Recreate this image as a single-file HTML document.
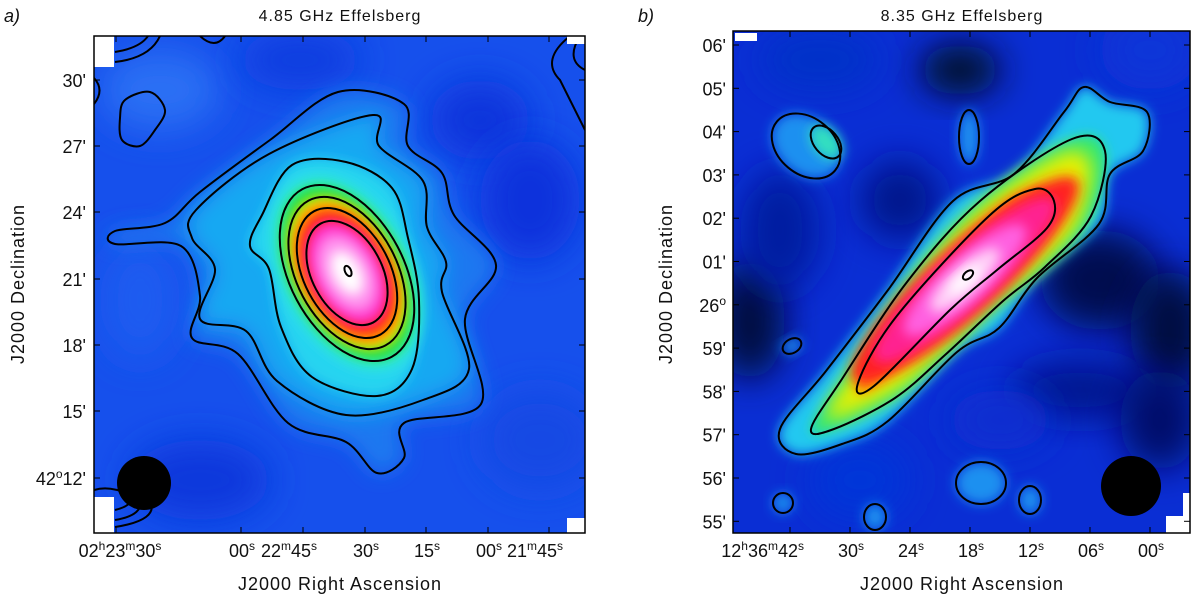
<!DOCTYPE html>
<html><head><meta charset="utf-8"><style>
body{margin:0;background:#fff;width:1200px;height:601px;overflow:hidden}
svg{display:block}
text{font-family:"Liberation Sans","DejaVu Sans",sans-serif;fill:#111}
</style></head><body>
<svg id="s" width="1200" height="601" viewBox="0 0 1200 601">
<defs>
<filter id="b6" x="-50%" y="-50%" width="200%" height="200%"><feGaussianBlur stdDeviation="6"/></filter>
<filter id="b10" x="-50%" y="-50%" width="200%" height="200%"><feGaussianBlur stdDeviation="10"/></filter>
<filter id="b18" x="-50%" y="-50%" width="200%" height="200%"><feGaussianBlur stdDeviation="18"/></filter>
<clipPath id="cl"><rect x="94" y="36" width="491" height="497"/></clipPath>
<clipPath id="cr"><rect x="733" y="31" width="457" height="502"/></clipPath>
</defs>
<g id="L" clip-path="url(#cl)"></g>
<g id="R" clip-path="url(#cr)"></g>
<g id="ax"></g>
</svg>
<script>
// ---- data ----
const leftYTicks=["30'","27'","24'","21'","18'","15'","42°12'"];
const leftYPos=[80,146,212,279,345,411,478];
const leftXTicks=["02h23m30s","00s","22m45s","30s","15s","00s","21m45s"];
const leftXPos=[116,241,303,365,426,488,549];
const rightYTicks=["06'","05'","04'","03'","02'","01'","26°","59'","58'","57'","56'","55'"];
const rightXTicks=["12h36m42s","30s","24s","18s","12s","06s","00s"];
const rightXPos=[790,850,910,970,1030,1090,1150];
const leftOuter=[[115,231],[165,223],[200,192],[270,140],[338,92],[404,104],[408,146],[442,173],[454,215],[496,265],[465,319],[481,404],[404,423],[404,458],[377,473],[346,442],[288,423],[238,354],[192,338],[200,296],[181,246],[115,244]];
const leftMid=[[196,210],[269,154],[373,115],[379,146],[423,181],[427,227],[446,262],[442,292],[469,369],[423,400],[346,415],[277,381],[246,331],[200,319],[215,269],[192,238]];
const leftInner=[[262,215],[292,165],[346,162],[392,188],[408,238],[419,300],[412,369],[377,396],[312,377],[281,327],[269,269],[250,246]];
const leftCore=[[35,56],[43,70],[50,82],[57,95]];
const rOuter=[[780,429],[826,371],[888,290],[953,201],[1014,174],[1064,112],[1084,87],[1110,102],[1147,112],[1143,151],[1110,174],[1099,224],[1037,278],[999,328],[957,352],[888,421],[842,444],[796,454]];
const rMid=[[811,429],[842,379],[907,282],[980,201],[1072,139],[1105,151],[1091,216],[1045,267],[1003,301],[945,355],[895,398],[834,429]];
const rCore=[[858,383],[896,317],[989,216],[1035,189],[1054,201],[1047,228],[997,270],[951,309],[874,386]];
const rBlobs=[[806,146,38,28,40],[826,142,12,19,-40],[969,137,10,27,0],[792,346,10,7,-30],[981,483,25,21,0],[1030,500,11,14,0],[783,503,10,10,0],[875,517,11,13,0]];

const NS="http://www.w3.org/2000/svg";
function mk(p,t,a){const e=document.createElementNS(NS,t);for(const k in a)e.setAttribute(k,a[k]);p.appendChild(e);return e;}
function cr(pts){let n=pts.length,d="M"+pts[0][0]+","+pts[0][1];
 for(let i=0;i<n;i++){const p0=pts[(i-1+n)%n],p1=pts[i],p2=pts[(i+1)%n],p3=pts[(i+2)%n];
 d+=" C"+(p1[0]+(p2[0]-p0[0])/6)+","+(p1[1]+(p2[1]-p0[1])/6)+" "+(p2[0]-(p3[0]-p1[0])/6)+","+(p2[1]-(p3[1]-p1[1])/6)+" "+p2[0]+","+p2[1];}
 return d+"Z";}
const cs={fill:"none",stroke:"#000","stroke-width":2};
// ---- LEFT ----
const L=document.getElementById("L");
mk(L,"rect",{x:94,y:36,width:491,height:497,fill:"#1650ec"});
[[160,90,60,40,"#2a70f4"],[480,120,50,40,"#0a34dc"],[530,200,50,60,"#0c30dc"],[540,440,60,50,"#1248e4"],[200,480,70,40,"#0c38dc"],[140,300,40,60,"#1a5cf0"],[300,60,60,30,"#0e3ce0"]].forEach(b=>mk(L,"ellipse",{cx:b[0],cy:b[1],rx:b[2],ry:b[3],fill:b[4],filter:"url(#b18)"}));
mk(L,"path",{d:cr(leftOuter),fill:"#1a78f0",filter:"url(#b10)"});
mk(L,"path",{d:cr(leftMid),fill:"#18a8f2",filter:"url(#b10)"});
mk(L,"path",{d:cr(leftInner),fill:"#28d4f0",filter:"url(#b6)"});
const lc=[[66,105,"#30e8e0"],[57,95,"#22e040"],[50,82,"#f0e800"],[45,74,"#ff8000"],[40,64,"#ff1818"],[35,56,"#ff30c8"],[26,42,"#ff90ee"],[14,24,"#fff"]];
lc.forEach(c=>mk(L,"ellipse",{cx:347,cy:273,rx:c[0],ry:c[1],fill:c[2],transform:"rotate(-28 347 273)",filter:"url(#b6)"}));
const gL=mk(L,"g",{});


[leftOuter,leftMid,leftInner].forEach(p=>mk(gL,"path",Object.assign({d:cr(p)},cs)));
leftCore.forEach(c=>mk(gL,"ellipse",Object.assign({cx:347,cy:273,rx:c[0],ry:c[1],transform:"rotate(-28 347 273)"},cs)));
mk(gL,"ellipse",Object.assign({cx:348,cy:271,rx:3,ry:5.5,transform:"rotate(-25 348 271)"},cs));
mk(gL,"path",Object.assign({d:cr([[125,100],[150,92],[165,110],[155,130],[140,146],[122,140],[120,118]])},cs));
mk(gL,"path",Object.assign({d:"M115,52 Q140,48 148,36 M115,62 Q150,58 160,36 M200,36 Q215,50 225,36 M585,130 Q570,100 560,80 Q540,60 570,36 M585,70 Q565,60 580,36 M94,78 Q105,90 94,104 M115,510 Q135,505 130,495 Q110,485 94,490 M115,520 Q145,515 140,498 M115,527 Q160,520 150,500"},cs));
mk(L,"circle",{cx:144,cy:483,r:27,fill:"#000"});
[[94,36,20,31],[567,36,18,8],[94,497,20,36],[567,518,18,15]].forEach(r=>mk(L,"rect",{x:r[0],y:r[1],width:r[2],height:r[3],fill:"#fff"}));
// ---- RIGHT ----
const R=document.getElementById("R");
mk(R,"rect",{x:733,y:31,width:457,height:502,fill:"#0a2ed4"});
[[960,70,40,25,"#000820"],[750,320,35,60,"#000a40"],[1100,280,60,50,"#000c50"],[1170,330,40,60,"#000a40"],[900,200,40,40,"#06168c"],[1080,390,70,30,"#041490"],[780,230,40,60,"#061aa0"],[1160,420,40,50,"#02106a"],[820,60,60,30,"#0630c8"],[1000,420,50,30,"#0a2ed0"],[1150,50,50,40,"#0836d8"],[860,480,50,40,"#0636d8"]].forEach(b=>mk(R,"ellipse",{cx:b[0],cy:b[1],rx:b[2],ry:b[3],fill:b[4],filter:"url(#b18)"}));
rBlobs.slice(0,1).concat(rBlobs.slice(2)).forEach(b=>mk(R,"ellipse",{cx:b[0],cy:b[1],rx:b[2],ry:b[3],transform:`rotate(${b[4]} ${b[0]} ${b[1]})`,fill:"#1a90f0",filter:"url(#b6)"}));
mk(R,"ellipse",{cx:826,cy:142,rx:13,ry:20,transform:"rotate(-40 826 142)",fill:"#30e0c0",filter:"url(#b6)"});
mk(R,"path",{d:cr(rOuter),fill:"#20c8f0",filter:"url(#b6)"});
mk(R,"path",{d:cr(rMid),fill:"#30e870",filter:"url(#b6)"});
mk(R,"path",{d:cr(rMid),fill:"#e8f000",filter:"url(#b10)",transform:"translate(963 286) scale(0.9) translate(-963 -286)"});
mk(R,"path",{d:cr(rCore),fill:"#ff8000",filter:"url(#b6)"});
const rc=[[150,34,"#ff2020"],[120,28,"#ff2090"],[80,22,"#ff60e0"],[45,14,"#ffd0f8"],[20,7,"#fff"]];
rc.forEach(c=>mk(R,"ellipse",{cx:965,cy:280,rx:c[0],ry:c[1],fill:c[2],transform:"rotate(-42 965 280)",filter:"url(#b6)"}));
const gR=mk(R,"g",{});


[rOuter,rMid,rCore].forEach(p=>mk(gR,"path",Object.assign({d:cr(p)},cs)));
rBlobs.forEach(b=>mk(gR,"ellipse",Object.assign({cx:b[0],cy:b[1],rx:b[2],ry:b[3],transform:`rotate(${b[4]} ${b[0]} ${b[1]})`},cs)));
mk(gR,"ellipse",Object.assign({cx:968,cy:275,rx:6,ry:3.5,transform:"rotate(-40 968 275)"},cs));
mk(R,"circle",{cx:1131,cy:486,r:30,fill:"#000"});
mk(R,"rect",{x:735,y:33,width:22,height:8,fill:"#fff"});
mk(R,"path",{d:"M1166,533 V516 H1183 V493 H1190 V533 Z",fill:"#fff"});
// ---- AXES ----
const A=document.getElementById("ax");
function frame(x0,y0,x1,y1,name){const r=mk(A,"rect",{x:x0,y:y0,width:x1-x0,height:y1-y0,fill:"none",stroke:"#000","stroke-width":1.5});}
frame(94,36,585,533,"frame-a");frame(733,31,1190,533,"frame-b");
function txt(x,y,s,o,name){const t=mk(A,"text",Object.assign({x:x,y:y,"font-size":18},o||{}));t.textContent=s;return t;}
function ra(s){return s.replace(/([hms])/g,'<tspan baseline-shift="super" font-size="12">$1</tspan>');}
leftYTicks.forEach((s,i)=>{const y=leftYPos[i];mk(A,"line",{x1:94,y1:y,x2:100,y2:y,stroke:"#000"});mk(A,"line",{x1:585,y1:y,x2:579,y2:y,stroke:"#000"});
 const t=txt(86,y+7,s,{"text-anchor":"end"},"y-tick-label-a");if(s.includes("°"))t.innerHTML='42<tspan baseline-shift="super" font-size="12">o</tspan>12\'';});
leftXTicks.forEach((s,i)=>{const x=leftXPos[i];mk(A,"line",{x1:x,y1:533,x2:x,y2:527,stroke:"#000"});mk(A,"line",{x1:x,y1:36,x2:x,y2:42,stroke:"#000"});
 const t=txt(x,557,"",{"text-anchor":i==0?"middle":"end"},"x-tick-label-a");t.innerHTML=ra(s);if(i==0)t.setAttribute("x",x+4);else t.setAttribute("x",x+14);});
rightYTicks.forEach((s,i)=>{const y=45+i*43.3;mk(A,"line",{x1:733,y1:y,x2:739,y2:y,stroke:"#000"});mk(A,"line",{x1:1190,y1:y,x2:1184,y2:y,stroke:"#000"});
 const t=txt(726,y+7,s,{"text-anchor":"end"},"y-tick-label-b");if(s.includes("°"))t.innerHTML='26<tspan baseline-shift="super" font-size="12">o</tspan>';});
rightXTicks.forEach((s,i)=>{const x=rightXPos[i];mk(A,"line",{x1:x,y1:533,x2:x,y2:527,stroke:"#000"});mk(A,"line",{x1:x,y1:31,x2:x,y2:37,stroke:"#000"});
 const t=txt(x+14,557,"",{"text-anchor":"end"},"x-tick-label-b");t.innerHTML=ra(s);});
txt(340,21,"4.85 GHz Effelsberg",{"text-anchor":"middle","font-size":16,"letter-spacing":1},"title-a");
txt(962,21,"8.35 GHz Effelsberg",{"text-anchor":"middle","font-size":16,"letter-spacing":1},"title-b");
txt(340,590,"J2000 Right Ascension",{"text-anchor":"middle","letter-spacing":1},"x-axis-title-a");
txt(962,590,"J2000 Right Ascension",{"text-anchor":"middle","letter-spacing":1},"x-axis-title-b");
txt(0,0,"J2000 Declination",{"text-anchor":"middle","letter-spacing":1,transform:"translate(24 284) rotate(-90)"},"y-axis-title-a");
txt(0,0,"J2000 Declination",{"text-anchor":"middle","letter-spacing":1,transform:"translate(672 284) rotate(-90)"},"y-axis-title-b");
txt(4,22,"a)",{"font-family":"Liberation Serif","font-style":"italic","font-size":18},"panel-label-a");
txt(638,22,"b)",{"font-family":"Liberation Serif","font-style":"italic","font-size":18},"panel-label-b");
</script>
</body></html>
